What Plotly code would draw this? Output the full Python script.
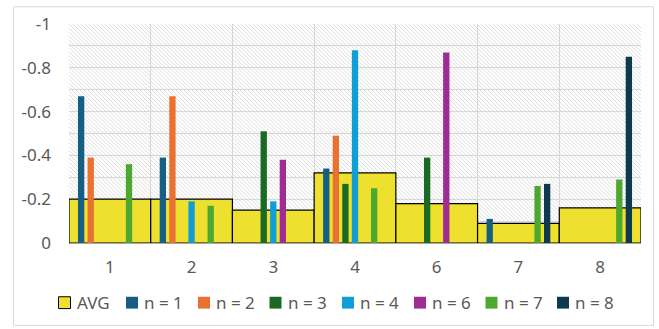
import base64
import plotly.graph_objects as go

# ---- data -------------------------------------------------------------
categories = ["1", "2", "3", "4", "6", "7", "8"]

avg = [-0.20, -0.20, -0.15, -0.32, -0.18, -0.09, -0.16]

n1 = [-0.67, -0.39, None, -0.34, None, -0.11, None]
n2 = [-0.39, -0.67, None, -0.49, None, None, None]
n3 = [None, None, -0.51, -0.27, -0.39, None, None]
n4 = [None, -0.19, -0.19, -0.88, None, None, None]
n6 = [None, None, -0.38, None, -0.87, None, None]
n7 = [-0.36, -0.17, None, -0.25, None, -0.26, -0.29]
n8 = [None, None, None, None, None, -0.27, -0.85]

series_names = ["n = 1", "n = 2", "n = 3", "n = 4", "n = 6", "n = 7", "n = 8"]
series_values = [n1, n2, n3, n4, n6, n7, n8]
series_colors = ["#156082", "#E97132", "#196B24", "#0F9ED5", "#A02B93", "#4EA72E", "#0E3A4F"]
avg_color = "#EDE02E"

y_tickvals = [0, -0.1, -0.2, -0.3, -0.4, -0.5, -0.6, -0.7, -0.8, -0.9, -1.0]
y_ticktext = ["0", "", "-0.2", "", "-0.4", "", "-0.6", "", "-0.8", "", "-1"]

# ---- geometry ---------------------------------------------------------
W, H = 659, 329
L, R, T, B = 69, 18, 21, 86
PW, PH = W - L - R, H - T - B
FONT = "Noto Sans"
FS = 17
TXT = "#595959"


def px(x):
    return (x - L) / PW


def py(y):
    return (H - B - y) / PH


# diagonal hatch for the plot area
hatch_svg = f"""<svg xmlns='http://www.w3.org/2000/svg' width='{PW}' height='{PH}'>
<defs><pattern id='h' width='4' height='4' patternUnits='userSpaceOnUse'>
<rect width='4' height='4' fill='white'/>
<path d='M-1,-1 L5,5 M-1,3 L1,5 M3,-1 L5,1' stroke='#dcdcdc' stroke-width='1'/>
</pattern></defs>
<rect width='{PW}' height='{PH}' fill='url(#h)'/></svg>"""
hatch_uri = "data:image/svg+xml;base64," + base64.b64encode(hatch_svg.encode()).decode()

fig = go.Figure()

# wide average bars (behind)
fig.add_trace(go.Bar(
    x=categories, y=avg, name="AVG", width=1.0,
    marker=dict(color=avg_color, line=dict(color="#000000", width=1.2)),
    xaxis="x", yaxis="y", showlegend=False,
))

# clustered per-n bars on the overlaying axis (drawn on top)
for name, vals, col in zip(series_names, series_values, series_colors):
    fig.add_trace(go.Bar(
        x=categories, y=vals, name=name,
        marker=dict(color=col, line=dict(width=0)),
        xaxis="x2", yaxis="y", showlegend=False,
    ))

fig.update_layout(
    width=W, height=H,
    margin=dict(l=L, r=R, t=T, b=B),
    paper_bgcolor="white", plot_bgcolor="rgba(0,0,0,0)",
    barmode="group", bargap=0.18, bargroupgap=0.34,
    font=dict(family=FONT, size=FS, color=TXT),
    xaxis=dict(
        type="category", categoryorder="array", categoryarray=categories,
        range=[-0.5, len(categories) - 0.5],
        tickson="boundaries", ticks="", showgrid=True,
        gridcolor="#d6d6d6", gridwidth=1.2,
        showline=True, linecolor="#a6a6a6", linewidth=1,
        tickfont=dict(family=FONT, size=FS, color=TXT),
        ticklabelstandoff=9,
        zeroline=False,
    ),
    xaxis2=dict(
        type="category", categoryorder="array", categoryarray=categories,
        overlaying="x", matches="x", visible=False,
    ),
    yaxis=dict(
        range=[0, -1], tickmode="array", tickvals=y_tickvals, ticktext=y_ticktext,
        showgrid=True, gridcolor="#d6d6d6", gridwidth=1.2, zeroline=False,
        ticks="", showline=False,
        tickfont=dict(family=FONT, size=FS, color=TXT),
        ticklabelstandoff=17,
    ),
    images=[dict(
        source=hatch_uri, xref="paper", yref="paper", x=0, y=1,
        sizex=1, sizey=1, xanchor="left", yanchor="top",
        sizing="stretch", layer="below",
    )],
)

shapes = [dict(
    type="rect", xref="paper", yref="paper",
    x0=px(13.5), x1=px(653.5), y0=py(326.5), y1=py(3.5),
    line=dict(color="#d9d9d9", width=1), fillcolor="rgba(0,0,0,0)", layer="above",
)]
annotations = []

# legend row along the bottom
legend_names = ["AVG"] + series_names
legend_colors = [avg_color] + series_colors
legend_x = [58.5, 126, 198, 269.5, 342, 414, 485.5, 557]
leg_cy = 303.5
sq = 12
for i, (nm, col, x0) in enumerate(zip(legend_names, legend_colors, legend_x)):
    shapes.append(dict(
        type="rect", xref="paper", yref="paper",
        x0=px(x0), x1=px(x0 + sq), y0=py(leg_cy + sq / 2), y1=py(leg_cy - sq / 2),
        fillcolor=col,
        line=dict(color="#000000" if i == 0 else col, width=1 if i == 0 else 0),
    ))
    annotations.append(dict(
        xref="paper", yref="paper", x=px(x0 + sq + 4), y=py(leg_cy),
        xanchor="left", yanchor="middle", text=nm, showarrow=False,
        font=dict(family=FONT, size=FS, color=TXT),
    ))

fig.update_layout(shapes=shapes, annotations=annotations)
fig.write_html("out.html")
